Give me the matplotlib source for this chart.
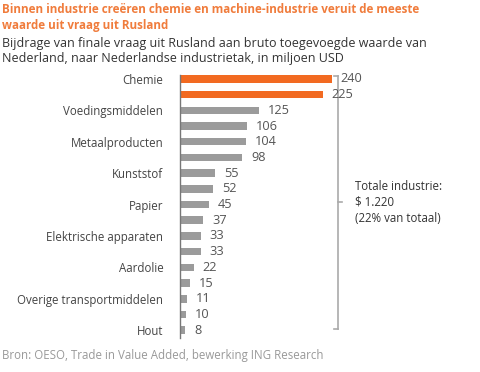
import matplotlib
matplotlib.use("Agg")
import matplotlib.pyplot as plt

plt.rcParams['font.family'] = ['Open Sans', 'DejaVu Sans']

values = [240, 225, 125, 106, 104, 98, 55, 52, 45, 37, 33, 33, 22, 15, 11, 10, 8]
highlight = [True, True] + [False] * 15
tick_labels = ["Chemie", "Voedingsmiddelen", "Metaalproducten", "Kunststof", "Papier",
               "Elektrische apparaten", "Aardolie", "Overige transportmiddelen", "Hout"]
title = "Binnen industrie creëren chemie en machine-industrie veruit de meeste\nwaarde uit vraag uit Rusland"
subtitle = "Bijdrage van finale vraag uit Rusland aan bruto toegevoegde waarde van\nNederland, naar Nederlandse industrietak, in miljoen USD"
source = "Bron: OESO, Trade in Value Added, bewerking ING Research"
note = "Totale industrie:\n$ 1.220\n(22% van totaal)"

ORANGE = "#F26A21"
GRAY = "#9B9B9B"
TXT = "#444444"

W, H = 481, 372
fig = plt.figure(figsize=(W / 100, H / 100), dpi=100)
ax = fig.add_axes([180 / W, 1 - 338 / H, 190 / W, 263 / H])

pos = list(range(len(values)))
colors = [ORANGE if h else GRAY for h in highlight]
ax.barh(pos, values, height=0.48, color=colors)
ax.set_xlim(0, 300)
ax.set_ylim(16.5, -0.25)

ax.set_yticks(pos[::2])
ax.set_yticklabels(tick_labels, fontsize=8.3, color=TXT)
ax.tick_params(axis='y', length=0, pad=12)
ax.set_xticks([])
for s in ['top', 'right', 'bottom']:
    ax.spines[s].set_visible(False)
ax.spines['left'].set_color("#777777")
ax.spines['left'].set_linewidth(1.0)

for p, v in zip(pos, values):
    ax.text(v + 14, p, str(v), va='center', ha='left', fontsize=9.2, color="#555555")

# bracket
bx = 249.5
ax.plot([bx, bx], [-0.2, 15.9], color="#AAAAAA", lw=1.2, clip_on=False)
ax.plot([bx - 6, bx], [-0.2, -0.2], color="#AAAAAA", lw=1.2, clip_on=False)
ax.plot([bx - 6, bx], [15.9, 15.9], color="#AAAAAA", lw=1.2, clip_on=False)
ax.plot([bx, bx + 6], [7.85, 7.85], color="#AAAAAA", lw=1.2, clip_on=False)
fig.text(355 / W, 1 - 202 / H, note, fontsize=8.3, color="#333333", va='center', ha='left',
         linespacing=1.3)

fig.text(2 / W, 1 - 3 / H, title, fontsize=8.4, fontweight='bold', color="#F07C3C",
         va='top', ha='left', linespacing=1.25)
fig.text(2 / W, 1 - 37 / H, subtitle, fontsize=9.0, color="#333333",
         va='top', ha='left', linespacing=1.2)
fig.text(2 / W, 1 - 355 / H, source, fontsize=8.3, color="#999999", va='center', ha='left')

fig.savefig("out.png", dpi=100)
